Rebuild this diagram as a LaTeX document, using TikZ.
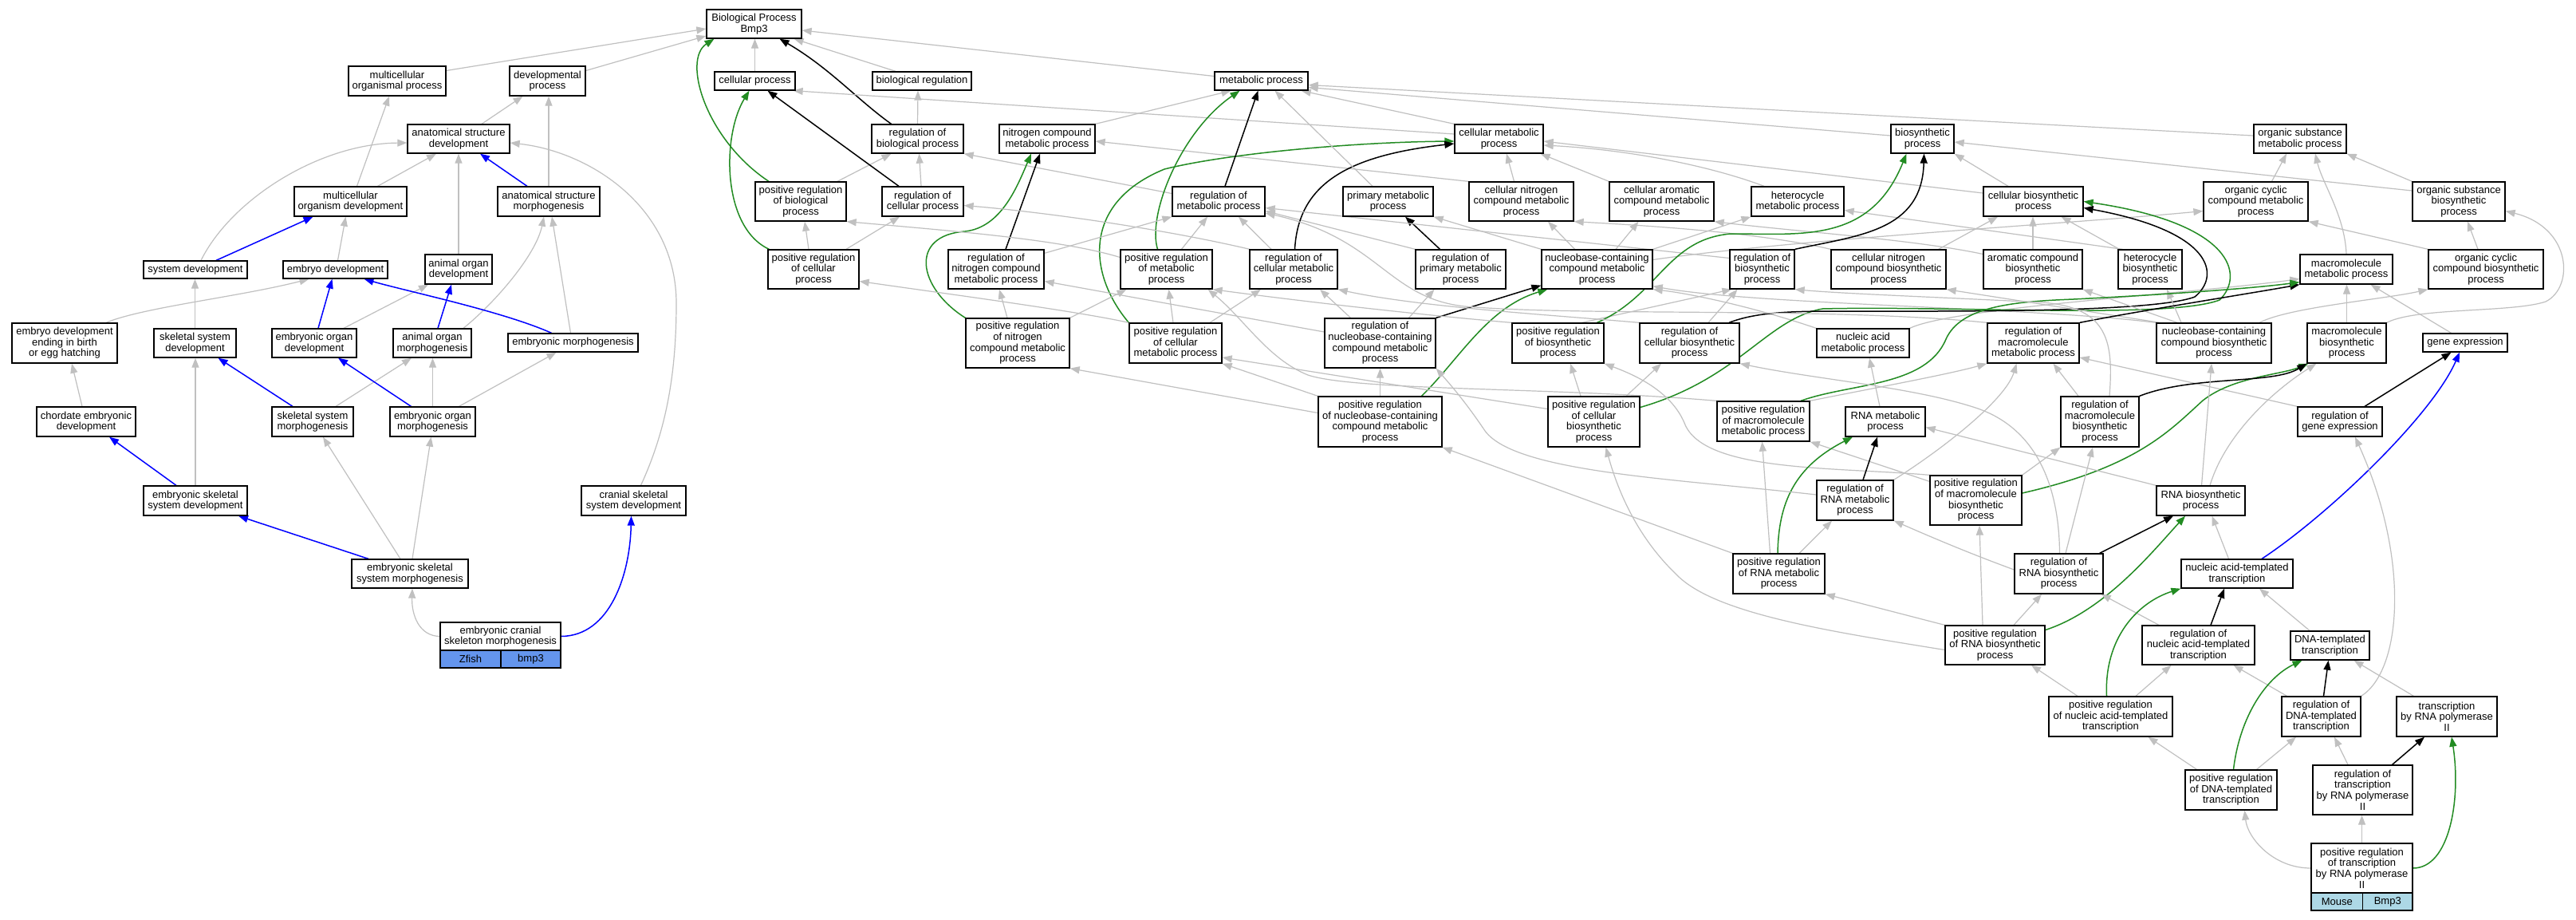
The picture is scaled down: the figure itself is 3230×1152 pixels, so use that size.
\documentclass[tikz,border=0pt]{standalone}
\usepackage{fontspec}
\setmainfont{Liberation Sans}
\usetikzlibrary{arrows.meta,calc}
\pgfdeclarelayer{bg}
\pgfsetlayers{bg,main}
\definecolor{eg}{HTML}{C0C0C0}
\definecolor{en}{HTML}{228B22}
\definecolor{zf}{HTML}{6495ED}
\definecolor{ms}{HTML}{ADD8E6}
\newcommand\gofont{\fontsize{13pt}{13.6pt}\selectfont}
\newcommand\gobox[6]{\node[gobx,minimum width=#4pt,minimum height=#5pt] (#1) at (#2,#3) {#6};}
\begin{document}
\begin{tikzpicture}[x=1pt,y=-1pt,
 gobx/.style={draw=black,line width=1.3pt,fill=white,inner sep=0pt,align=center,font=\gofont},
 rowc/.style={draw=black,line width=1.3pt,inner sep=0pt,align=center,font=\gofont,minimum height=22pt},
 gE/.style={draw=eg,line width=1.2pt,-{Triangle[length=12pt,width=9pt]}},
 kE/.style={draw=black,line width=1.5pt,-{Triangle[length=12pt,width=9pt]}},
 nE/.style={draw=en,line width=1.5pt,-{Triangle[length=12pt,width=9pt]}},
 bE/.style={draw=blue,line width=1.5pt,-{Triangle[length=12pt,width=9pt]}}]
\useasboundingbox (0,0) rectangle (3230,1152);
% ---------------- nodes
\gobox{BP}{945.5}{30}{119}{36}{Biological Process\\Bmp3}
\gobox{MOP}{498}{101.5}{122}{37}{multicellular\\organismal process}
\gobox{DP}{686.5}{101.5}{95}{37}{developmental\\process}
\gobox{CP}{946.5}{101.5}{101}{23}{cellular process}
\gobox{BR}{1156}{101.5}{124}{23}{biological regulation}
\gobox{MP}{1581.5}{101.5}{117}{23}{metabolic process}
\gobox{ASD}{575}{174}{128}{36}{anatomical structure\\development}
\gobox{RBP}{1150.5}{174}{115}{36}{regulation of\\biological process}
\gobox{NCMP}{1313}{174}{120}{36}{nitrogen compound\\metabolic process}
\gobox{CMP}{1879.5}{174}{111}{36}{cellular metabolic\\process}
\gobox{BSP}{2410.5}{174}{79}{36}{biosynthetic\\process}
\gobox{OSMP}{2884}{174}{116}{36}{organic substance\\metabolic process}
\gobox{MOD}{439.5}{252.5}{141}{37}{multicellular\\organism development}
\gobox{ASM}{688}{252.5}{128}{37}{anatomical structure\\morphogenesis}
\gobox{PRBP}{1004}{252.5}{114}{49}{positive regulation\\of biological\\process}
\gobox{RCP}{1157}{252.5}{102}{37}{regulation of\\cellular process}
\gobox{RMP}{1528}{252.5}{116}{37}{regulation of\\metabolic process}
\gobox{PMP}{1740.5}{252.5}{113}{37}{primary metabolic\\process}
\gobox{CNCMP}{1907.5}{252.5}{131}{49}{cellular nitrogen\\compound metabolic\\process}
\gobox{CACMP}{2083.5}{252.5}{131}{49}{cellular aromatic\\compound metabolic\\process}
\gobox{HMP}{2254}{252.5}{116}{37}{heterocycle\\metabolic process}
\gobox{CBSP}{2549.5}{252.5}{125}{37}{cellular biosynthetic\\process}
\gobox{OCCMP}{2828.5}{252.5}{131}{49}{organic cyclic\\compound metabolic\\process}
\gobox{OSBP}{3083}{252.5}{116}{49}{organic substance\\biosynthetic\\process}
\gobox{SD}{245}{338}{130}{22}{system development}
\gobox{ED}{420.5}{338}{131}{22}{embryo development}
\gobox{AOD}{575}{337.5}{84}{37}{animal organ\\development}
\gobox{PRCP}{1020}{337.5}{114}{49}{positive regulation\\of cellular\\process}
\gobox{RNCMP}{1249}{337.5}{120}{49}{regulation of\\nitrogen compound\\metabolic process}
\gobox{PRMP}{1462.5}{337.5}{115}{49}{positive regulation\\of metabolic\\process}
\gobox{RCMP}{1622}{337.5}{110}{49}{regulation of\\cellular metabolic\\process}
\gobox{RPMP}{1831.5}{337.5}{113}{49}{regulation of\\primary metabolic\\process}
\gobox{NBCCMP}{2002.5}{337.5}{139}{49}{nucleobase-containing\\compound metabolic\\process}
\gobox{RBSP}{2209.5}{337.5}{81}{49}{regulation of\\biosynthetic\\process}
\gobox{CNCBP}{2368}{337.5}{144}{49}{cellular nitrogen\\compound biosynthetic\\process}
\gobox{ACBP}{2549}{337.5}{124}{49}{aromatic compound\\biosynthetic\\process}
\gobox{HBP}{2696}{337.5}{80}{49}{heterocycle\\biosynthetic\\process}
\gobox{MMP}{2942}{337.5}{116}{37}{macromolecule\\metabolic process}
\gobox{OCCBP}{3117}{337.5}{144}{49}{organic cyclic\\compound biosynthetic\\process}
\gobox{EDEB}{81}{430}{132}{50}{embryo development\\ending in birth\\or egg hatching}
\gobox{SSD}{244.5}{430}{103}{36}{skeletal system\\development}
\gobox{EOD}{394}{430}{106}{36}{embryonic organ\\development}
\gobox{AOM}{542}{430}{98}{36}{animal organ\\morphogenesis}
\gobox{EM}{718.5}{429.5}{163}{23}{embryonic morphogenesis}
\gobox{PRNCMP}{1276}{430}{130}{62}{positive regulation\\of nitrogen\\compound metabolic\\process}
\gobox{PRCMP}{1474}{430}{116}{50}{positive regulation\\of cellular\\metabolic process}
\gobox{RNBCCMP}{1730.5}{430}{139}{62}{regulation of\\nucleobase-containing\\compound metabolic\\process}
\gobox{PRBSP}{1953.5}{430}{115}{50}{positive regulation\\of biosynthetic\\process}
\gobox{RCBSP}{2118.5}{430}{125}{50}{regulation of\\cellular biosynthetic\\process}
\gobox{NAMP}{2336}{430}{116}{36}{nucleic acid\\metabolic process}
\gobox{RMMP}{2549.5}{430}{115}{50}{regulation of\\macromolecule\\metabolic process}
\gobox{NBCCBP}{2776}{430}{144}{50}{nucleobase-containing\\compound biosynthetic\\process}
\gobox{MBP}{2942.5}{430}{99}{50}{macromolecule\\biosynthetic\\process}
\gobox{GE}{3091}{429.5}{106}{23}{gene expression}
\gobox{CED}{108}{528.5}{124}{37}{chordate embryonic\\development}
\gobox{SSM}{392}{528.5}{102}{37}{skeletal system\\morphogenesis}
\gobox{EOM}{542.5}{528.5}{107}{37}{embryonic organ\\morphogenesis}
\gobox{PRNBCCMP}{1730.5}{528.5}{155}{63}{positive regulation\\of nucleobase-containing\\compound metabolic\\process}
\gobox{PRCBSP}{1998.5}{528.5}{115}{63}{positive regulation\\of cellular\\biosynthetic\\process}
\gobox{PRMMP}{2211}{528}{116}{50}{positive regulation\\of macromolecule\\metabolic process}
\gobox{RNAMP}{2364}{528.5}{100}{37}{RNA metabolic\\process}
\gobox{RMBP}{2633}{528.5}{98}{63}{regulation of\\macromolecule\\biosynthetic\\process}
\gobox{RGE}{2934}{528.5}{106}{37}{regulation of\\gene expression}
\gobox{ESSD}{245}{627.5}{130}{37}{embryonic skeletal\\system development}
\gobox{CSSD}{794.5}{627.5}{131}{37}{cranial skeletal\\system development}
\gobox{RRNAMP}{2326}{627}{96}{50}{regulation of\\RNA metabolic\\process}
\gobox{PRMBP}{2477.5}{627}{115}{62}{positive regulation\\of macromolecule\\biosynthetic\\process}
\gobox{RNABP}{2759.5}{627.5}{111}{37}{RNA biosynthetic\\process}
\gobox{ESSM}{514}{719}{146}{36}{embryonic skeletal\\system morphogenesis}
\gobox{PRRNAMP}{2230.5}{719}{115}{50}{positive regulation\\of RNA metabolic\\process}
\gobox{RRNABP}{2581.5}{719}{111}{50}{regulation of\\RNA biosynthetic\\process}
\gobox{NATT}{2805}{719}{140}{36}{nucleic acid-templated\\transcription}
\gobox{ECSM}{627.5}{797.5}{151}{35}{embryonic cranial\\skeleton morphogenesis}
\node[rowc,fill=zf,minimum width=76pt] (ZFa) at (590,826) {Zfish};
\node[rowc,fill=zf,minimum width=75pt] (ZFb) at (665.5,826) {bmp3};
\gobox{PRRNABP}{2501.5}{808.5}{125}{49}{positive regulation\\of RNA biosynthetic\\process}
\gobox{RNATT}{2756.5}{808.5}{141}{49}{regulation of\\nucleic acid-templated\\transcription}
\gobox{DNATT}{2921.5}{809}{99}{36}{DNA-templated\\transcription}
\gobox{PRNATT}{2646.5}{898}{155}{50}{positive regulation\\of nucleic acid-templated\\transcription}
\gobox{RDNATT}{2910.5}{898}{99}{50}{regulation of\\DNA-templated\\transcription}
\gobox{TRNAP}{3068}{898}{126}{50}{transcription\\by RNA polymerase\\II}
\gobox{PRDNATT}{2797.5}{990}{115}{50}{positive regulation\\of DNA-templated\\transcription}
\gobox{RTRNAP}{2962.5}{990}{125}{62}{regulation of\\transcription\\by RNA polymerase\\II}
\gobox{PRTRNAP}{2961.5}{1088}{127}{62}{positive regulation\\of transcription\\by RNA polymerase\\II}
\node[rowc,fill=ms,minimum width=64.5pt] (MSa) at (2930.25,1130) {Mouse};
\node[rowc,fill=ms,minimum width=62.5pt] (MSb) at (2993.75,1130) {Bmp3};
% ---------------- edges
\begin{pgfonlayer}{bg}
\fill[white] (0,0) rectangle (3230,1152);
% left part
\draw[gE] ([yshift=13pt]MOP.east) -- ([yshift=-6pt]BP.west);
\draw[gE] ([yshift=13pt]DP.east) -- ([yshift=-15pt]BP.west);
\draw[gE] ([xshift=29pt]ASD.north) -- ([xshift=-31pt]DP.south);
\draw[gE] ([xshift=8pt]MOD.north) -- ([xshift=-10pt]MOP.south);
\draw[gE] ([xshift=34pt]MOD.north) -- ([xshift=-28pt]ASD.south);
\draw[bE] ([xshift=-27pt]ASM.north) -- ([xshift=27pt]ASD.south);
\draw[gE] (ASM.north) -- (ASM.north |- DP.south);
\draw[gE] ([xshift=7pt]SD.north) .. controls (290,250) and (400,180) .. ([yshift=-5pt]ASD.west);
\draw[bE] ([xshift=26pt]SD.north) -- ([xshift=-47pt]MOD.south);
\draw[gE] ([xshift=3pt]ED.north) -- ([xshift=-6pt]MOD.south);
\draw[gE] (AOD.north) -- (AOD.north |- ASD.south);
\draw[gE] ([xshift=9pt]CSSD.north) .. controls (835,540) and (848,470) .. (848,380) .. controls (848,260) and (740,190) .. ([yshift=-5pt]ASD.east);
\draw[gE] ([xshift=52pt]EDEB.north) .. controls (180,385) and (300,372) .. ([xshift=-33pt]ED.south);
\draw[gE] (SSD.north) -- (SSD.north |- SD.south);
\draw[bE] ([xshift=5pt]EOD.north) -- ([xshift=-4pt]ED.south);
\draw[gE] ([xshift=37pt]EOD.north) -- ([xshift=-38pt]AOD.south);
\draw[bE] ([xshift=7pt]AOM.north) -- ([xshift=-9pt]AOD.south);
\draw[gE] ([xshift=39pt]AOM.north) .. controls (620,380) and (672,320) .. ([xshift=-6pt]ASM.south);
\draw[bE] ([xshift=-27pt]EM.north) .. controls (630,390) and (510,365) .. ([xshift=36pt]ED.south);
\draw[gE] ([xshift=-3pt]EM.north) -- ([xshift=4pt]ASM.south);
\draw[gE] ([xshift=-5pt]CED.north) -- ([xshift=9pt]EDEB.south);
\draw[bE] ([xshift=-25pt]SSM.north) -- ([xshift=29pt]SSD.south);
\draw[gE] ([xshift=29pt]SSM.north) -- ([xshift=-26pt]AOM.south);
\draw[bE] ([xshift=-27pt]EOM.north) -- ([xshift=30pt]EOD.south);
\draw[gE] (EOM.north) -- (EOM.north |- AOM.south);
\draw[gE] ([xshift=33pt]EOM.north) -- ([xshift=-21pt]EM.south);
\draw[gE] (ESSD.north) -- (ESSD.north |- SSD.south);
\draw[bE] ([xshift=-24pt]ESSD.north) -- ([xshift=29pt]CED.south);
\draw[bE] ([xshift=-52pt]ESSM.north) -- ([xshift=54pt]ESSD.south);
\draw[gE] ([xshift=-12pt]ESSM.north) -- ([xshift=13pt]SSM.south);
\draw[gE] ([xshift=3pt]ESSM.north) -- ([xshift=-2pt]EOM.south);
\draw[gE] (ECSM.west) .. controls (525,797) and (516,770) .. ([xshift=3pt]ESSM.south);
\draw[bE] (ECSM.east) .. controls (765,797) and (790,720) .. ([xshift=-3pt]CSSD.south);
% top centre
\draw[gE] (CP.north) -- (CP.north |- BP.south);
\draw[gE] ([xshift=-33pt]BR.north) -- ([xshift=50pt]BP.south);
\draw[gE] ([yshift=6pt]MP.west) -- ([yshift=-8pt]BP.east);
\draw[kE] ([xshift=-33pt]RBP.north) .. controls (1075,125) and (1040,85) .. ([xshift=32pt]BP.south);
\draw[nE] ([xshift=-40pt]PRBP.north) .. controls (885,175) and (855,75) .. ([xshift=-50pt]BP.south);
\draw[gE] (RBP.north) -- ([xshift=-5pt]BR.south);
\draw[gE] ([xshift=46pt]PRBP.north) -- ([xshift=-33pt]RBP.south);
\draw[kE] ([xshift=-30pt]RCP.north) -- ([xshift=16pt]CP.south);
\draw[gE] ([xshift=-2pt]RCP.north) -- ([xshift=2pt]RBP.south);
\draw[nE] ([xshift=2pt]PRCP.north west) .. controls (905,285) and (905,170) .. ([xshift=-7pt]CP.south);
\draw[gE] ([xshift=-6pt]PRCP.north) -- ([xshift=5pt]PRBP.south);
\draw[gE] ([xshift=41pt]PRCP.north) -- ([xshift=-29pt]RCP.south);
\draw[gE] ([yshift=6pt]CMP.west) -- ([xshift=-3pt]CP.south east);
\draw[gE] (NCMP.north east) -- ([xshift=-38pt]MP.south);
\draw[gE] ([yshift=10pt]RMP.west) -- (RBP.south east);
\draw[gE] (CNCMP.north west) -- ([yshift=-3pt]NCMP.east);
\draw[nE] (PRCMP.north west) .. controls (1365,345) and (1355,255) .. (1460,212) .. controls (1540,192) and (1700,178) .. ([yshift=-3pt]CMP.west);
\draw[nE] ([xshift=-11pt]PRMP.north) .. controls (1438,270) and (1480,165) .. ([xshift=-27pt]MP.south);
\draw[kE] ([xshift=8pt]RMP.north) -- ([xshift=-4pt]MP.south);
\draw[nE] (PRNCMP.north west) .. controls (1150,360) and (1140,295) .. (1210,290) .. controls (1255,285) and (1275,235) .. ([xshift=-20pt]NCMP.south);
\draw[kE] ([xshift=12pt]RNCMP.north) -- ([xshift=-9pt]NCMP.south);
\draw[gE] ([yshift=15pt]PRMP.west) .. controls (1330,300) and (1200,290) .. (PRBP.south east);
\draw[gE] (PRCMP.north west) .. controls (1350,390) and (1200,370) .. ([yshift=-15pt]PRCP.east);
\draw[gE] ([xshift=-55pt]RCMP.north) .. controls (1450,285) and (1300,265) .. ([yshift=-5pt]RCP.east);
\draw[gE] ([yshift=-5pt]RNCMP.north east) -- (RMP.south west);
\draw[gE] ([xshift=-13pt]PRNCMP.north) -- ([xshift=4pt]RNCMP.south);
\draw[gE] (PRNCMP.north east) -- ([xshift=-50pt]PRMP.south);
\draw[gE] ([xshift=19pt]PRMP.north) -- ([xshift=-14pt]RMP.south);
\draw[gE] ([xshift=-28pt]RCMP.north) -- ([xshift=25pt]RMP.south);
\draw[gE] (RPMP.north west) -- ([yshift=-12pt]RMP.east);
\draw[gE] ([yshift=14pt]RNBCCMP.west) -- ([yshift=-15pt]RNCMP.east);
\draw[gE] ([xshift=-37pt]RNBCCMP.north) -- ([xshift=33pt]RCMP.south);
\draw[gE] ([xshift=36pt]RNBCCMP.north) -- ([xshift=-33pt]RPMP.south);
\draw[gE] ([xshift=-3pt]PRCMP.north) -- ([xshift=3pt]PRMP.south);
\draw[gE] ([xshift=43pt]PRCMP.north) -- ([xshift=-41pt]RCMP.south);
\draw[gE] ([yshift=11pt]PRNBCCMP.west) -- (PRNCMP.south east);
\draw[gE] (PRNBCCMP.north) -- (PRNBCCMP.north |- RNBCCMP.south);
\draw[gE] (PRNBCCMP.north west) -- (PRCMP.south east);
\draw[nE] ([xshift=52pt]PRNBCCMP.north) .. controls (1830,450) and (1865,385) .. ([xshift=8pt]NBCCMP.south west);
\draw[kE] (RNBCCMP.north east) -- ([yshift=5pt]NBCCMP.south west);
\draw[kE] ([xshift=1.5pt]RCMP.north) .. controls (1628,230) and (1690,195) .. ([yshift=-6pt]CMP.west);
\draw[kE] ([xshift=-26pt]RPMP.north) -- ([xshift=21.5pt]PMP.south);
\draw[gE] (PRMMP.north west) .. controls (1950,485) and (1700,490) .. (1640,470) .. controls (1590,450) and (1560,400) .. ([xshift=-6pt]PRMP.south east);
% metabolic
\draw[gE] (CMP.north west) -- ([xshift=-9pt]MP.south east);
\draw[gE] ([xshift=-19.5pt]PMP.north) -- ([xshift=17pt]MP.south);
\draw[gE] ([yshift=4pt]BSP.west) -- ([yshift=-8pt]MP.east);
\draw[gE] ([yshift=4pt]OSMP.west) -- ([yshift=-5pt]MP.east);
\draw[gE] ([xshift=-9pt]CNCMP.north) -- ([xshift=9.5pt]CMP.south);
\draw[gE] (CACMP.north west) -- ([xshift=-4pt]CMP.south east);
\draw[gE] ([xshift=-42pt]HMP.north) .. controls (2150,210) and (2050,188) .. ([yshift=-8pt]CMP.east);
\draw[gE] ([yshift=10.5pt]CBSP.west) -- ([yshift=-3pt]CMP.east);
\draw[gE] ([xshift=-31.5pt]CBSP.north) -- (BSP.south east);
\draw[gE] ([yshift=13.5pt]OSBP.west) -- ([yshift=-4pt]BSP.east);
\draw[gE] ([xshift=20pt]OCCMP.north) -- ([xshift=-17pt]OSMP.south);
\draw[gE] (MMP.north) .. controls (2940,270) and (2912,230) .. ([xshift=19pt]OSMP.south);
\draw[gE] (OSBP.north west) -- (OSMP.south east);
\draw[gE] ([xshift=-28pt]NBCCMP.north) -- ([xshift=33.5pt]CNCMP.south);
\draw[gE] ([xshift=23.5pt]NBCCMP.north) -- ([xshift=-29pt]CACMP.south);
\draw[gE] (NBCCMP.north east) -- (HMP.south west);
\draw[gE] (NBCCMP.north west) -- (PMP.south east);
\draw[gE] ([yshift=12pt]NBCCMP.east) .. controls (2250,300) and (2600,280) .. ([yshift=-12pt]OCCMP.west);
\draw[gE] (CNCBP.north west) .. controls (2200,290) and (2050,282) .. (CNCMP.south east);
\draw[gE] ([yshift=19pt]ACBP.west) .. controls (2400,300) and (2250,290) .. (CACMP.south east);
\draw[gE] ([xshift=-10pt]CNCBP.north east) -- ([xshift=-44.5pt]CBSP.south);
\draw[gE] (ACBP.north) -- (ACBP.north |- CBSP.south);
\draw[gE] ([xshift=2pt]HBP.north west) -- ([xshift=35pt]CBSP.south);
\draw[gE] ([xshift=6pt]HBP.north west) -- ([yshift=-11pt]HMP.east);
\draw[gE] (OCCBP.north west) -- (OCCMP.south east);
\draw[gE] ([xshift=-10pt]OCCBP.north) -- ([xshift=11pt]OSBP.south);
\draw[gE] (MBP.north) -- (MBP.north |- MMP.south);
\draw[gE] (MBP.north east) .. controls (3030,385) and (3150,392) .. (3192,378) .. controls (3228,360) and (3225,285) .. ([yshift=-12pt]OSBP.east);
\draw[gE] ([xshift=-17.5pt]GE.north) -- ([xshift=30.5pt]MMP.south);
\draw[gE] (NAMP.north west) .. controls (2200,385) and (2120,368) .. (NBCCMP.south east);
\draw[gE] (NBCCBP.north west) .. controls (2550,385) and (2200,382) .. ([yshift=4pt]NBCCMP.south east);
\draw[gE] (NAMP.north east) .. controls (2450,385) and (2750,368) .. ([yshift=-12pt]MMP.west);
\draw[gE] ([yshift=14pt]RBSP.west) -- ([yshift=-8pt]RMP.east);
\draw[gE] ([xshift=30pt]PRBSP.north) -- ([xshift=3pt]RBSP.south west);
\draw[gE] ([xshift=23.5pt]RCBSP.north) -- ([xshift=-31pt]RBSP.south);
\draw[kE] (RBSP.north east) .. controls (2330,295) and (2410,290) .. ([xshift=2pt]BSP.south);
\draw[nE] ([xshift=49pt]PRBSP.north) .. controls (2080,370) and (2090,300) .. (2170,293) .. controls (2260,293) and (2345,305) .. ([xshift=-20pt]BSP.south);
\draw[gE] (PRBSP.north west) .. controls (1750,392) and (1590,372) .. (PRMP.south east);
\draw[gE] (RCBSP.north west) .. controls (1950,395) and (1780,385) .. (RCMP.south east);
\draw[gE] ([xshift=-16.5pt]PRCBSP.north) -- ([xshift=15.5pt]PRBSP.south);
\draw[gE] ([xshift=40.5pt]PRCBSP.north) -- ([xshift=-35.5pt]RCBSP.south);
\draw[gE] ([yshift=16pt]PRCBSP.west) -- ([yshift=-18pt]PRCMP.east);
\draw[nE] ([yshift=18pt]PRCBSP.east) .. controls (2180,475) and (2215,400) .. (2285,387) .. controls (2450,383) and (2720,400) .. (2783,376) .. controls (2815,345) and (2800,280) .. (CBSP.east);
\draw[kE] ([xshift=49.5pt]RCBSP.north) .. controls (2200,392) and (2240,390) .. (2300,390) .. controls (2450,390) and (2700,392) .. (2752,372) .. controls (2785,345) and (2775,290) .. ([yshift=-8pt]CBSP.east);
\draw[gE] ([xshift=5pt]NBCCBP.north west) -- (CNCBP.south east);
\draw[gE] ([xshift=-46pt]NBCCBP.north) -- (ACBP.south east);
\draw[gE] ([xshift=-41pt]NBCCBP.north) -- ([xshift=21pt]HBP.south);
\draw[gE] ([xshift=57pt]NBCCBP.north) .. controls (2870,385) and (2990,375) .. (OCCBP.south west);
\draw[gE] (RMMP.north west) .. controls (2300,385) and (2000,396) .. (1850,385) .. controls (1740,380) and (1735,300) .. ([yshift=-14.5pt]RMP.east);
\draw[kE] (RMMP.north east) .. controls (2680,390) and (2820,368) .. (MMP.south west);
\draw[nE] ([xshift=47pt]PRMMP.north) .. controls (2320,480) and (2415,485) .. (2440,425) .. controls (2458,385) and (2520,378) .. (2600,375) .. controls (2700,370) and (2820,362) .. ([yshift=3pt]MMP.south west);
\draw[gE] (PRMMP.north east) .. controls (2330,490) and (2440,470) .. (RMMP.south west);
\draw[gE] ([xshift=-27pt]RMBP.north) -- ([xshift=25pt]RMMP.south);
\draw[gE] (RRNAMP.north east) .. controls (2440,560) and (2515,500) .. ([xshift=-21pt]RMMP.south);
\draw[gE] ([xshift=12pt]RMBP.north) .. controls (2650,430) and (2645,385) .. (2560,379) .. controls (2420,372) and (2310,368) .. (RBSP.south east);
\draw[gE] (RGE.north west) -- ([yshift=-18pt]RMMP.east);
\draw[kE] ([xshift=31pt]RGE.north) -- ([xshift=-17.5pt]GE.south);
\draw[gE] (PRMBP.north east) -- (RMBP.south west);
\draw[gE] (PRMBP.north west) .. controls (2300,585) and (2135,592) .. (2112,530) .. controls (2095,490) and (2050,470) .. (PRBSP.south east);
\draw[gE] ([yshift=-8pt]PRMBP.north west) -- (PRMMP.south east);
\draw[nE] ([yshift=9pt]PRMBP.east) .. controls (2680,585) and (2720,540) .. (2762,502) .. controls (2800,472) and (2860,470) .. ([xshift=2pt]MBP.south west);
\draw[kE] (RMBP.north east) .. controls (2750,470) and (2850,482) .. (MBP.south west);
\draw[gE] ([xshift=1pt]RNABP.north) -- ([xshift=-3pt]NBCCBP.south);
\draw[gE] ([xshift=11.5pt]RNABP.north) .. controls (2790,545) and (2850,490) .. ([xshift=12pt]MBP.south west);
\draw[gE] (RNABP.north west) -- ([yshift=-7pt]RNAMP.east);
\draw[gE] ([xshift=-7pt]RNAMP.north) -- ([xshift=8pt]NAMP.south);
\draw[kE] ([xshift=10pt]RRNAMP.north) -- ([xshift=-10pt]RNAMP.south);
\draw[nE] ([xshift=-1.5pt]PRRNAMP.north) .. controls (2230,630) and (2250,585) .. ([xshift=-41pt]RNAMP.south);
\draw[gE] ([yshift=7pt]RRNAMP.west) .. controls (2100,600) and (1900,592) .. (1862,540) .. controls (1835,500) and (1815,478) .. (RNBCCMP.south east);
\draw[gE] ([xshift=-11pt]PRRNAMP.north) -- ([xshift=-1.5pt]PRMMP.south);
\draw[gE] ([xshift=25.5pt]PRRNAMP.north) -- ([xshift=-29pt]RRNAMP.south);
\draw[gE] (PRRNAMP.north west) -- (PRNBCCMP.south east);
\draw[kE] ([xshift=-5pt]RRNABP.north east) -- ([xshift=-34.5pt]RNABP.south);
\draw[gE] ([yshift=5pt]RRNABP.west) .. controls (2460,690) and (2410,668) .. (RRNAMP.south east);
\draw[gE] ([xshift=8.5pt]RRNABP.north) -- ([xshift=-9pt]RMBP.south);
\draw[gE] ([xshift=1pt]RRNABP.north) .. controls (2582,620) and (2560,540) .. (2480,512) .. controls (2400,485) and (2280,476) .. (RCBSP.south east);
\draw[nE] ([yshift=19pt]PRRNABP.east) .. controls (2640,765) and (2700,690) .. ([xshift=-19.5pt]RNABP.south);
\draw[gE] ([xshift=23.5pt]PRRNABP.north) -- ([xshift=-21.5pt]RRNABP.south);
\draw[gE] ([xshift=-15.5pt]PRRNABP.north) -- ([xshift=4.5pt]PRMBP.south);
\draw[gE] (PRRNABP.north west) -- (PRRNAMP.south east);
\draw[gE] ([yshift=-6pt]PRRNABP.west) .. controls (2300,792) and (2150,770) .. (2102,720) .. controls (2055,675) and (2030,620) .. ([xshift=15pt]PRCBSP.south);
\draw[gE] ([xshift=-10.5pt]NATT.north) -- ([xshift=14pt]RNABP.south);
\draw[bE] ([xshift=31pt]NATT.north) .. controls (2920,645) and (3050,520) .. ([xshift=-7pt]GE.south);
\draw[kE] ([xshift=15.5pt]RNATT.north) -- ([xshift=-16pt]NATT.south);
\draw[gE] ([xshift=-49.5pt]RNATT.north) -- ([xshift=-3pt]RRNABP.south east);
\draw[gE] ([xshift=-25.5pt]DNATT.north) -- ([xshift=28pt]NATT.south);
\draw[nE] ([xshift=-5pt]PRNATT.north) .. controls (2638,800) and (2680,755) .. (NATT.south west);
\draw[gE] ([xshift=-41.5pt]PRNATT.north) -- ([xshift=45.5pt]PRRNABP.south);
\draw[gE] ([xshift=31.5pt]PRNATT.north) -- ([xshift=-34pt]RNATT.south);
\draw[gE] ([xshift=-43pt]RDNATT.north) -- ([xshift=44pt]RNATT.south);
\draw[kE] ([xshift=3pt]RDNATT.north) -- ([xshift=-2pt]DNATT.south);
\draw[gE] (RDNATT.north east) .. controls (3012,840) and (3022,700) .. ([xshift=19pt]RGE.south);
\draw[gE] ([xshift=-41.6pt]TRNAP.north) -- ([xshift=30pt]DNATT.south);
\draw[nE] ([xshift=3pt]PRDNATT.north) .. controls (2808,900) and (2840,850) .. ([xshift=-35pt]DNATT.south);
\draw[gE] ([xshift=-43pt]PRDNATT.north) -- ([xshift=47pt]PRNATT.south);
\draw[gE] ([xshift=32pt]PRDNATT.north) -- ([xshift=-31.5pt]RDNATT.south);
\draw[gE] ([xshift=-18.5pt]RTRNAP.north) -- ([xshift=16.5pt]RDNATT.south);
\draw[kE] ([xshift=37pt]RTRNAP.north) -- ([xshift=-28pt]TRNAP.south);
\draw[gE] (PRTRNAP.west) .. controls (2850,1088) and (2818,1050) .. ([xshift=17pt]PRDNATT.south);
\draw[gE] (PRTRNAP.north) -- (PRTRNAP.north |- RTRNAP.south);
\draw[nE] (PRTRNAP.east) .. controls (3072,1088) and (3086,1000) .. ([xshift=6pt]TRNAP.south);
\end{pgfonlayer}
\end{tikzpicture}
\end{document}
